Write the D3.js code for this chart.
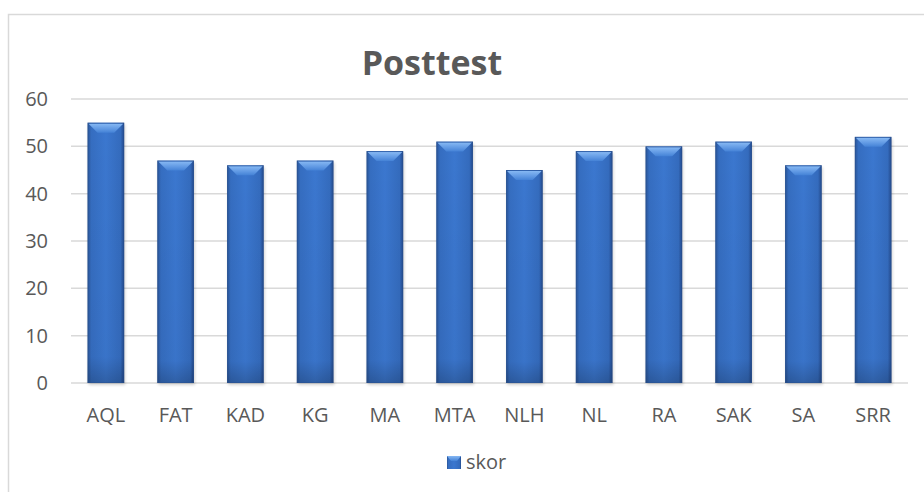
<!DOCTYPE html>
<html>
<head>
<meta charset="utf-8">
<script src="https://cdn.jsdelivr.net/npm/d3@7"></script>
<style>
  body { margin: 0; background: #fff; }
  text { font-family: "Open Sans", "Liberation Sans", sans-serif; fill: #595959; }
</style>
</head>
<body>
<svg id="chart" width="924" height="492"></svg>
<script>
const categories = ['AQL', 'FAT', 'KAD', 'KG', 'MA', 'MTA', 'NLH', 'NL', 'RA', 'SAK', 'SA', 'SRR'];
const skor = [55, 47, 46, 47, 49, 51, 45, 49, 50, 51, 46, 52];
const yTicks = [0, 10, 20, 30, 40, 50, 60];
const seriesName = 'skor';
const chartTitle = 'Posttest';

const svg = d3.select('#chart');
const margin = { left: 71, right: 16, top: 99, bottom: 109 };
const width = 924, height = 492;

// chart frame (only top and left edges are visible)
svg.append('path')
   .attr('d', `M8.5,${height} V14.5 H${width}`)
   .attr('fill', 'none')
   .attr('stroke', '#d9d9d9')
   .attr('stroke-width', 1.5);

const x = d3.scaleBand()
            .domain(categories)
            .range([margin.left, width - margin.right])
            .paddingInner(0.475)
            .paddingOuter(0.2375);

const y = d3.scaleLinear()
            .domain([0, 60])
            .range([height - margin.bottom, margin.top]);

// gradients
const defs = svg.append('defs');
const body = defs.append('linearGradient').attr('id', 'barBody')
                 .attr('x1', '0').attr('x2', '1').attr('y1', '0').attr('y2', '0');
[[0, '#2a5496'], [0.1, '#356dc0'], [0.5, '#3b77cf'], [0.9, '#346bbd'], [1, '#23488a']]
  .forEach(s => body.append('stop').attr('offset', s[0]).attr('stop-color', s[1]));

const vshade = defs.append('linearGradient').attr('id', 'barShade')
                   .attr('x1', '0').attr('x2', '0').attr('y1', '0').attr('y2', '1');
[[0, '#000', 0], [0.9, '#000', 0.03], [1, '#000', 0.2]]
  .forEach(s => vshade.append('stop').attr('offset', s[0]).attr('stop-color', s[1]).attr('stop-opacity', s[2]));

const bevel = defs.append('linearGradient').attr('id', 'barBevel')
                  .attr('x1', '0').attr('x2', '0').attr('y1', '0').attr('y2', '1');
[[0, '#86b8f3', 1], [0.6, '#5f98e3', 1], [1, '#4482d6', 1]]
  .forEach(s => bevel.append('stop').attr('offset', s[0]).attr('stop-color', s[1]).attr('stop-opacity', s[2]));

const shadow = defs.append('filter').attr('id', 'blur')
                   .attr('x', '-20%').attr('y', '-20%').attr('width', '140%').attr('height', '140%');
shadow.append('feGaussianBlur').attr('stdDeviation', 1.5);

// gridlines
svg.append('g')
   .selectAll('line')
   .data(yTicks)
   .join('line')
   .attr('x1', margin.left)
   .attr('x2', width - margin.right)
   .attr('y1', d => y(d))
   .attr('y2', d => y(d))
   .attr('stroke', '#d9d9d9')
   .attr('stroke-width', 1.5);

// y labels
svg.append('g')
   .selectAll('text')
   .data(yTicks)
   .join('text')
   .attr('x', 48)
   .attr('y', d => y(d))
   .attr('dy', '0.35em')
   .attr('text-anchor', 'end')
   .attr('font-size', 20)
   .text(d => d);

// bars
const bars = svg.append('g')
                .selectAll('g')
                .data(skor)
                .join('g')
                .attr('transform', (d, i) => `translate(${x(categories[i])},0)`);

const bw = x.bandwidth();
const bev = 10;

bars.append('rect')
    .attr('x', 1).attr('y', d => y(d) + 2)
    .attr('width', bw).attr('height', d => y(0) - y(d))
    .attr('fill', '#000').attr('opacity', 0.18)
    .attr('filter', 'url(#blur)');

bars.append('rect')
    .attr('x', 0).attr('y', d => y(d))
    .attr('width', bw).attr('height', d => y(0) - y(d))
    .attr('fill', 'url(#barBody)');

bars.append('rect')
    .attr('x', 0).attr('y', d => y(d))
    .attr('width', bw).attr('height', d => y(0) - y(d))
    .attr('fill', 'url(#barShade)');

bars.append('path')
    .attr('d', d => `M1,${y(d) + 1} H${bw - 1} L${bw - bev},${y(d) + bev} H${bev} Z`)
    .attr('fill', 'url(#barBevel)');

bars.append('rect')
    .attr('x', 0.5).attr('y', d => y(d) + 0.5)
    .attr('width', bw - 1).attr('height', d => y(0) - y(d) - 1)
    .attr('fill', 'none')
    .attr('stroke', '#2a5290')
    .attr('stroke-opacity', 0.5);

// x labels
svg.append('g')
   .selectAll('text')
   .data(categories)
   .join('text')
   .attr('x', d => x(d) + bw / 2)
   .attr('y', 422)
   .attr('text-anchor', 'middle')
   .attr('font-size', 20)
   .text(d => d);

// title
svg.append('text')
   .attr('x', 432)
   .attr('y', 75)
   .attr('text-anchor', 'middle')
   .attr('font-size', 34)
   .attr('font-weight', 'bold')
   .text(chartTitle);

// legend
const legend = svg.append('g').attr('transform', 'translate(447,456)');
legend.append('rect').attr('width', 14).attr('height', 13).attr('fill', 'url(#barBody)');
legend.append('path').attr('d', 'M0,0 H14 L10,5 H4 Z').attr('fill', 'url(#barBevel)');
legend.append('text')
      .attr('x', 19).attr('y', 13)
      .attr('font-size', 20)
      .text(seriesName);
</script>
</body>
</html>
